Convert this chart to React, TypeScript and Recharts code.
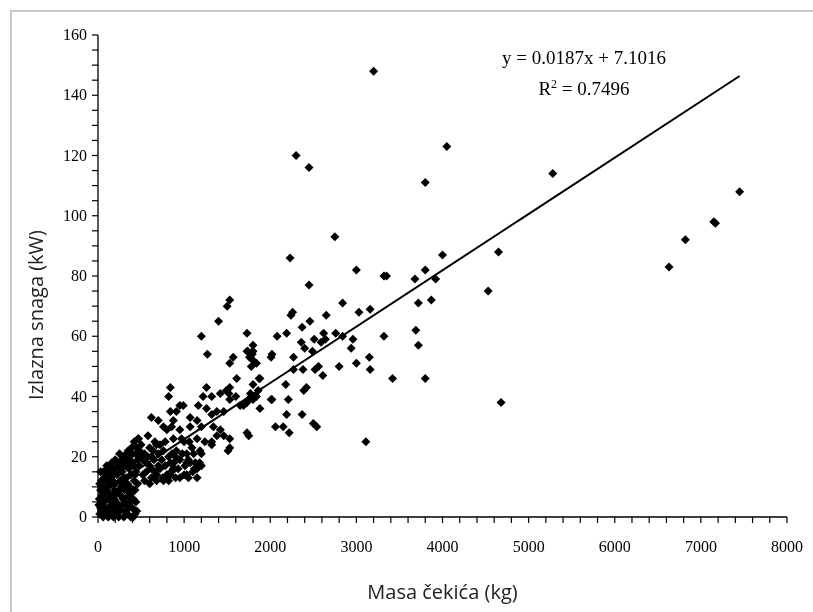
import React from 'react';
import { ScatterChart, Scatter, XAxis, YAxis, ReferenceLine } from 'recharts';

// hammer mass (kg) vs output power (kW)
const nearOrigin: [number, number][] = [
  [20, 1], [60, 0], [100, 2], [140, 1], [180, 0], [220, 1], [260, 2], [300, 0], [340, 1], [380, 0], [410, 0], [450, 2], [30, 3], [80, 2],
  [10, 4], [50, 5], [90, 3], [130, 6], [170, 4], [210, 5], [250, 3], [290, 6], [330, 4], [370, 5], [410, 6], [45, 7], [120, 8],
  [30, 9], [70, 8], [110, 10], [150, 7], [190, 9], [230, 8], [270, 10], [310, 9], [350, 7], [200, 11],
  [80, 12], [140, 13], [180, 11], [220, 14], [260, 12], [300, 13], [340, 11], [380, 14], [420, 12], [160, 15], [100, 14], [60, 15],
  [200, 16], [240, 18], [280, 15], [320, 17], [360, 16], [400, 18], [440, 15], [480, 17],
  [300, 20], [350, 22], [390, 23], [400, 21], [450, 23], [480, 20], [420, 25], [500, 24], [520, 19], [465, 26],
  [40, 2], [120, 0], [160, 3], [200, 2], [240, 0], [280, 4], [320, 2], [360, 3], [400, 3], [430, 1], [15, 6], [70, 5], [110, 6],
  [150, 4], [190, 6], [230, 4], [270, 7], [310, 5], [350, 9], [390, 8], [430, 9], [20, 11], [50, 10], [90, 9], [130, 11], [170, 12],
  [210, 8], [250, 9], [290, 11], [330, 13], [370, 10], [410, 9], [120, 16], [150, 17], [180, 14], [230, 17], [260, 16], [300, 17],
  [340, 19], [380, 18], [420, 17], [460, 19], [200, 19], [250, 21], [280, 19], [330, 21], [370, 20], [440, 21], [480, 22], [160, 18],
  [100, 17], [70, 13], [40, 12], [440, 5], [460, 11], [430, 14], [30, 15],
];

const lowBand: [number, number][] = [
  [540, 12], [560, 15], [580, 20], [600, 17], [600, 11], [620, 13], [640, 22], [650, 19], [660, 25], [680, 14], [680, 12], [700, 21],
  [720, 16], [750, 13], [800, 14], [840, 14], [850, 15], [875, 16], [900, 13], [950, 13], [1000, 14], [1010, 17], [1030, 14], [1050, 13],
  [1070, 18], [1100, 15], [1150, 13], [1150, 16], [1200, 17],
  [600, 23], [680, 24], [760, 22], [840, 18], [890, 16], [910, 22], [950, 19], [1030, 18], [1030, 21], [1110, 21], [1130, 18], [1180, 18], [1185, 22],
  [470, 26], [580, 27], [875, 26], [970, 26], [1150, 26], [1240, 25], [1320, 24], [1460, 27], [1530, 26], [1750, 27], [1510, 22], [1530, 23],
  [1320, 25], [1380, 27], [1730, 28],
  [800, 29], [855, 30], [950, 29], [1070, 30], [1200, 30], [1340, 30], [1420, 29], [760, 30], [875, 32], [620, 33], [700, 32], [840, 35],
  [910, 35], [1070, 33], [1150, 32],
  [520, 14], [560, 18], [620, 16], [700, 17], [740, 19], [780, 17], [820, 20], [860, 21], [720, 24], [780, 25], [820, 12], [880, 18],
  [930, 16], [980, 21], [1050, 19], [1090, 23], [1120, 16], [1000, 25], [540, 21], [620, 20], [660, 15], [760, 12], [900, 20], [1060, 25],
  [1200, 21],
];

const midBand: [number, number][] = [
  [950, 37], [990, 37], [1165, 37], [1260, 36], [1320, 34], [1380, 35], [1460, 35], [1650, 37], [1730, 38], [1800, 39], [1690, 37], [1720, 38],
  [1750, 39], [1780, 40], [1600, 40], [1530, 39], [1490, 42],
  [820, 40], [840, 43], [1220, 40], [1260, 43], [1320, 40], [1420, 41], [1520, 41], [1530, 43], [1610, 46], [1770, 41], [1860, 42], [1800, 44],
  [1840, 40], [1880, 46], [1880, 36], [2020, 39],
  [1270, 54], [1200, 60], [1530, 51], [1570, 53], [1730, 55], [1770, 53], [1800, 57], [1840, 51], [1730, 61], [1740, 55], [1760, 53], [1800, 52],
  [1780, 50], [1800, 55], [1790, 54], [1530, 72], [1500, 70], [1400, 65],
];

const upperBand: [number, number][] = [
  [2010, 39], [2180, 44], [2210, 39], [2390, 42], [2420, 43], [1870, 46], [2190, 34], [2060, 30], [2150, 30], [2220, 28], [2370, 34], [2500, 31],
  [2540, 30], [3110, 25],
  [2010, 53], [2020, 54], [2270, 53], [2270, 49], [2380, 49], [2520, 49], [2560, 50], [2610, 47], [2490, 55], [2360, 58], [2400, 56], [2510, 59],
  [2590, 58], [2940, 56], [2080, 60], [2190, 61], [2620, 61], [2640, 59], [2760, 61], [2840, 60], [2960, 59], [2370, 63], [2460, 65], [2650, 67],
  [2260, 68], [2240, 67], [2840, 71], [3030, 68], [3160, 69], [3320, 60], [3000, 51], [2800, 50], [3150, 53], [3160, 49], [3420, 46], [3800, 46],
  [3690, 62], [3720, 57], [3720, 71], [3870, 72], [3680, 79], [3920, 79], [3800, 82], [4000, 87], [3320, 80], [3350, 80], [3000, 82], [2450, 77],
  [2230, 86], [2750, 93],
];

const outliers: [number, number][] = [
  [3200, 148], [2300, 120], [2450, 116], [4050, 123], [3800, 111], [5280, 114], [4650, 88], [4530, 75], [4680, 38],
  [6630, 83], [6820, 92], [7150, 98], [7170, 97.5], [7450, 108],
];

// linear trend y = 0.0187x + 7.1016, drawn between its end points
const trendLine = [
  { x: 0, y: 7.1 },
  { x: 7450, y: 146.4 },
];

const xTicks = [
  0, 200, 400, 600, 800, 1000, 1200, 1400, 1600, 1800, 2000, 2200, 2400, 2600, 2800, 3000, 3200, 3400, 3600, 3800, 4000,
  4200, 4400, 4600, 4800, 5000, 5200, 5400, 5600, 5800, 6000, 6200, 6400, 6600, 6800, 7000, 7200, 7400, 7600, 7800, 8000,
];
const yTicks = [
  0, 5, 10, 15, 20, 25, 30, 35, 40, 45, 50, 55, 60, 65, 70, 75, 80, 85, 90, 95, 100, 105, 110, 115, 120, 125, 130, 135, 140,
  145, 150, 155, 160,
];

const points = [...nearOrigin, ...lowBand, ...midBand, ...upperBand, ...outliers].map(([x, y]) => ({ x, y }));

const serif = '"Liberation Serif", "Times New Roman", serif';
const sans = '"Open Sans", "Noto Sans", sans-serif';

const XTick = (props: any) => {
  const { x, y, payload } = props;
  const v = payload.value;
  return (
    <g>
      <line x1={x} y1={y} x2={x} y2={y + 6} stroke="#000" strokeWidth={1.2} />
      {v % 1000 === 0 && (
        <text x={x} y={y + 35} textAnchor="middle" fontFamily={serif} fontSize={16} fill="#000">
          {v}
        </text>
      )}
    </g>
  );
};

const YTick = (props: any) => {
  const { x, y, payload } = props;
  const v = payload.value;
  return (
    <g>
      <line x1={x} y1={y} x2={x - 6} y2={y} stroke="#000" strokeWidth={1.2} />
      {v % 20 === 0 && (
        <text x={x - 11} y={y + 5} textAnchor="end" fontFamily={serif} fontSize={16} fill="#000">
          {v}
        </text>
      )}
    </g>
  );
};

const YTitle = () => (
  <text
    transform="translate(27, 307) rotate(-90)"
    textAnchor="middle"
    dominantBaseline="central"
    fontFamily={sans}
    fontSize={20}
    fill="#222"
  >
    Izlazna snaga (kW)
  </text>
);

const Diamond = (props: any) => {
  const { cx, cy } = props;
  if (cx == null || cy == null) return null;
  const r = 4.5;
  return <path d={`M${cx},${cy - r}L${cx + r},${cy}L${cx},${cy + r}L${cx - r},${cy}Z`} fill="#000" />;
};

export default function App() {
  return (
    <div style={{ position: 'relative', width: 797, height: 596 }}>
      <div
        style={{
          position: 'fixed',
          left: 10,
          top: 10,
          right: 0,
          bottom: 0,
          borderTop: '2px solid #c8c8c8',
          borderLeft: '2px solid #c8c8c8',
          pointerEvents: 'none',
        }}
      />
      <ScatterChart width={797} height={600} margin={{ top: 27, right: 18, bottom: 0, left: 0 }}>
        <XAxis
          type="number"
          dataKey="x"
          domain={[0, 8000]}
          ticks={xTicks}
          interval={0}
          tick={<XTick />}
          tickLine={false}
          tickSize={0}
          tickMargin={0}
          axisLine={{ stroke: '#000', strokeWidth: 1.3 }}
          height={91}
          label={{
            value: 'Masa čekića (kg)',
            position: 'insideBottom',
            offset: 9,
            style: { fontFamily: sans, fontSize: 20, fill: '#222' },
          }}
        />
        <YAxis
          type="number"
          dataKey="y"
          domain={[0, 160]}
          ticks={yTicks}
          interval={0}
          tick={<YTick />}
          tickLine={false}
          tickSize={0}
          tickMargin={0}
          axisLine={{ stroke: '#000', strokeWidth: 1.3 }}
          width={90}
          label={{ content: <YTitle /> }}
        />
        <Scatter data={points} shape={<Diamond />} isAnimationActive={false} />
        <ReferenceLine segment={trendLine} stroke="#000" strokeWidth={2} ifOverflow="visible" />
      </ScatterChart>
      <div
        style={{
          position: 'absolute',
          left: 476,
          top: 34,
          width: 200,
          textAlign: 'center',
          fontFamily: serif,
          fontSize: 19,
          lineHeight: '31px',
          color: '#000',
        }}
      >
        <div>y = 0.0187x + 7.1016</div>
        <div>
          R<sup style={{ fontSize: 12, verticalAlign: 'top', lineHeight: '22px' }}>2</sup> = 0.7496
        </div>
      </div>
    </div>
  );
}
